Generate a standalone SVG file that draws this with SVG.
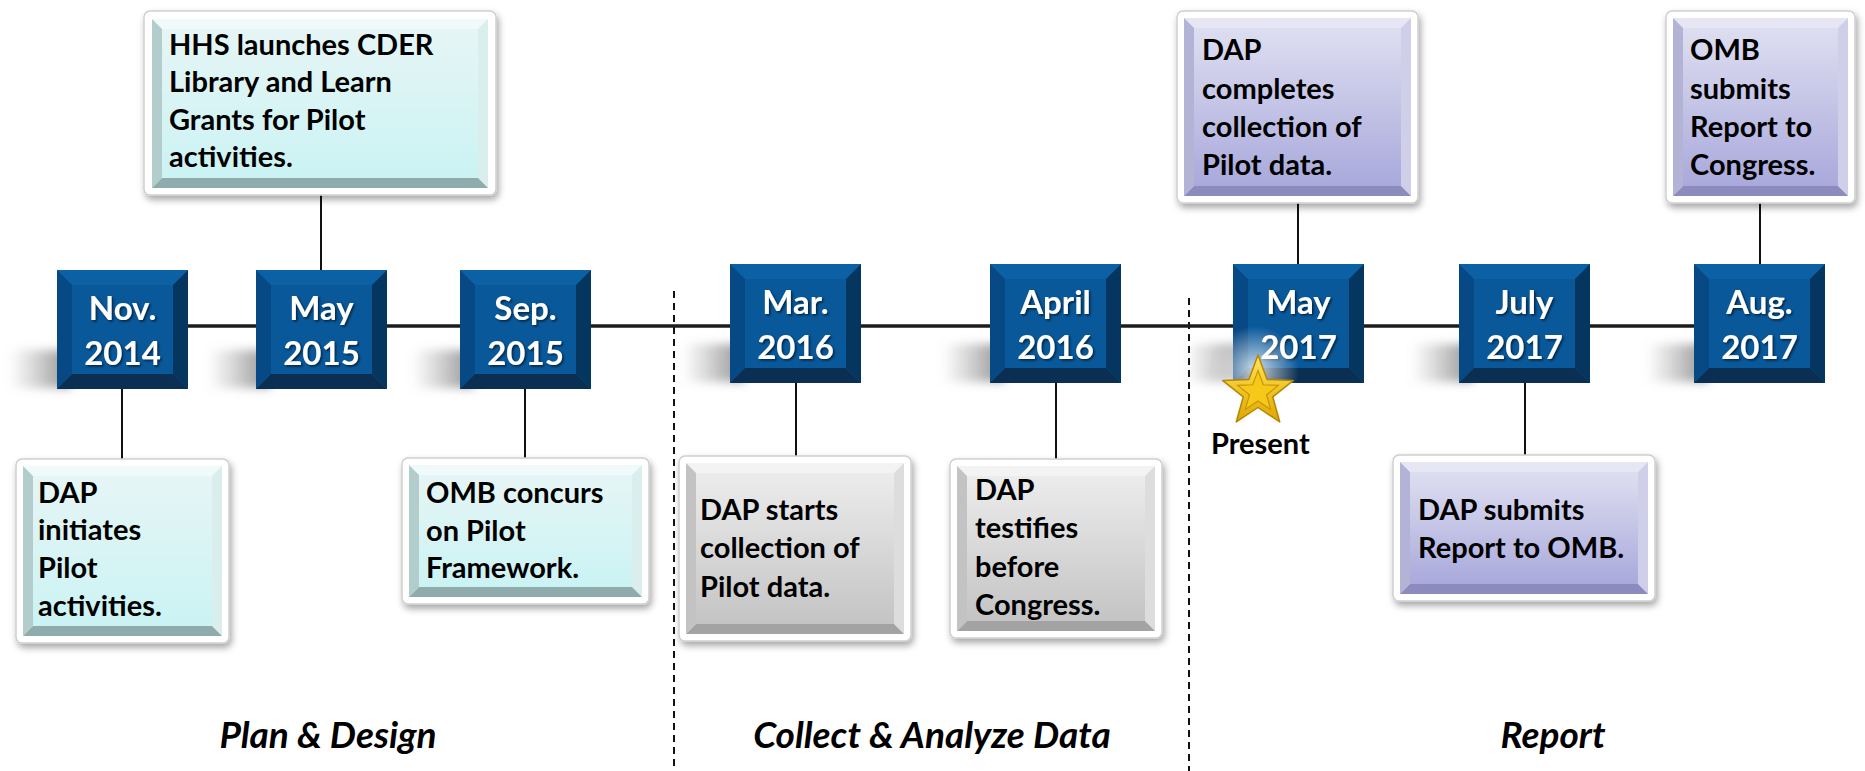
<svg xmlns="http://www.w3.org/2000/svg" xmlns:xlink="http://www.w3.org/1999/xlink" width="1865" height="771" viewBox="0 0 1865 771">
<style>
.outer{fill:#ffffff;stroke:#cfcfcf;stroke-width:1.5;filter:url(#ds)}
.c .t{fill:#f0fafa}.c .l{fill:#b3cdcd}.c .r{fill:#daeeee}.c .b{fill:#8fabab}.c .f{fill:url(#gc)}
.g .t{fill:#f3f3f3}.g .l{fill:#c3c3c3}.g .r{fill:#dddddd}.g .b{fill:#a3a3a3}.g .f{fill:url(#gg)}
.p .t{fill:#e6e6f4}.p .l{fill:#b3b3d6}.p .r{fill:#cfcfe9}.p .b{fill:#8b8bbd}.p .f{fill:url(#gp)}
.dt{font-family:Lato,"Open Sans","Liberation Sans",sans-serif;font-weight:700;font-size:29px;fill:#000}
.date{font-family:Lato,"Open Sans","Liberation Sans",sans-serif;font-weight:700;font-size:33px;fill:#fff;text-anchor:middle;filter:url(#ts)}
.phase{font-family:Lato,"Open Sans","Liberation Sans",sans-serif;font-weight:700;font-style:italic;font-size:37px;fill:#000;text-anchor:middle}
.conn{stroke:#111;stroke-width:2;fill:none}
.main{stroke:#1c1c1c;stroke-width:3.5;fill:none}
.div{stroke:#111;stroke-width:2;stroke-dasharray:7 5;fill:none}
</style>
<defs>
<linearGradient id="gc" x1="0" y1="0" x2="0" y2="1"><stop offset="0" stop-color="#e6f5f5"/><stop offset="1" stop-color="#cbf3f4"/></linearGradient>
<linearGradient id="gg" x1="0" y1="0" x2="0" y2="1"><stop offset="0" stop-color="#ececec"/><stop offset="1" stop-color="#c4c4c4"/></linearGradient>
<linearGradient id="gp" x1="0" y1="0" x2="0" y2="1"><stop offset="0" stop-color="#dedef1"/><stop offset="1" stop-color="#a9a9dc"/></linearGradient>
<linearGradient id="gstar" x1="0" y1="0" x2="0" y2="1"><stop offset="0" stop-color="#ffe55a"/><stop offset="1" stop-color="#e0a600"/></linearGradient>
<linearGradient id="gsh" x1="0" y1="0" x2="1" y2="0"><stop offset="0" stop-color="#888" stop-opacity="0"/><stop offset="1" stop-color="#6a6a6a" stop-opacity="0.75"/></linearGradient>
<radialGradient id="glow"><stop offset="0" stop-color="#ffffff" stop-opacity="0.8"/><stop offset="1" stop-color="#ffffff" stop-opacity="0"/></radialGradient>
<filter id="ds" x="-10%" y="-10%" width="125%" height="130%"><feDropShadow dx="2" dy="4" stdDeviation="3.5" flood-color="#000" flood-opacity="0.35"/></filter>
<filter id="ts" x="-10%" y="-20%" width="130%" height="150%"><feDropShadow dx="1.5" dy="1.5" stdDeviation="1" flood-color="#000" flood-opacity="0.6"/></filter>
<filter id="blur" x="-60%" y="-60%" width="220%" height="220%"><feGaussianBlur stdDeviation="5"/></filter>
<g id="dbox">
<rect x="-48" y="80" width="62" height="38" fill="url(#gsh)" filter="url(#blur)"/>
<rect width="131" height="119" fill="#0c60a4"/>
<polygon points="0,0 15,15 15,104 0,119" fill="#074985"/>
<polygon points="131,0 131,119 116,104 116,15" fill="#05365f"/>
<polygon points="0,119 15,104 116,104 131,119" fill="#0a2f52"/>
<rect x="15" y="15" width="101" height="89" fill="#09589a"/>
</g>
</defs>
<rect width="1865" height="771" fill="#ffffff"/>

<g id="dividers">
<line class="div" x1="674" y1="291" x2="674" y2="771"/>
<line class="div" x1="1189" y1="298" x2="1189" y2="771"/>
</g>

<g id="connectors">
<line class="main" x1="188" y1="326" x2="1694" y2="326"/>
<line class="conn" x1="122" y1="389" x2="122" y2="459"/>
<line class="conn" x1="321" y1="195" x2="321" y2="270"/>
<line class="conn" x1="525" y1="389" x2="525" y2="458"/>
<line class="conn" x1="796" y1="383" x2="796" y2="456"/>
<line class="conn" x1="1056" y1="383" x2="1056" y2="459"/>
<line class="conn" x1="1298" y1="203" x2="1298" y2="264"/>
<line class="conn" x1="1525" y1="383" x2="1525" y2="455"/>
<line class="conn" x1="1760" y1="203" x2="1760" y2="264"/>
</g>

<g id="d-nov2014" transform="translate(57,270)"><use xlink:href="#dbox"/><text class="date" x="65.5" y="50">Nov.</text><text class="date" x="65.5" y="95">2014</text></g>
<g id="d-may2015" transform="translate(256,270)"><use xlink:href="#dbox"/><text class="date" x="65.5" y="50">May</text><text class="date" x="65.5" y="95">2015</text></g>
<g id="d-sep2015" transform="translate(460,270)"><use xlink:href="#dbox"/><text class="date" x="65.5" y="50">Sep.</text><text class="date" x="65.5" y="95">2015</text></g>
<g id="d-mar2016" transform="translate(730,264)"><use xlink:href="#dbox"/><text class="date" x="65.5" y="50">Mar.</text><text class="date" x="65.5" y="95">2016</text></g>
<g id="d-apr2016" transform="translate(990,264)"><use xlink:href="#dbox"/><text class="date" x="65.5" y="50">April</text><text class="date" x="65.5" y="95">2016</text></g>
<g id="d-may2017" transform="translate(1233,264)"><use xlink:href="#dbox"/><text class="date" x="65.5" y="50">May</text><text class="date" x="65.5" y="95">2017</text></g>
<g id="d-jul2017" transform="translate(1459,264)"><use xlink:href="#dbox"/><text class="date" x="65.5" y="50">July</text><text class="date" x="65.5" y="95">2017</text></g>
<g id="d-aug2017" transform="translate(1694,264)"><use xlink:href="#dbox"/><text class="date" x="65.5" y="50">Aug.</text><text class="date" x="65.5" y="95">2017</text></g>

<g id="e-hhs" class="c">
<rect class="outer" x="144" y="11" width="352" height="184" rx="6"/>
<rect class="t" x="152" y="19" width="336" height="169"/>
<polygon class="l" points="152,19 162,29 162,178 152,188"/>
<polygon class="r" points="488,19 488,188 478,178 478,29"/>
<polygon class="b" points="152,188 162,178 478,178 488,188"/>
<rect class="f" x="162" y="29" width="316" height="149"/>
<text class="dt" x="169" y="55">HHS launches CDER</text>
<text class="dt" x="169" y="92">Library and Learn</text>
<text class="dt" x="169" y="130">Grants for Pilot</text>
<text class="dt" x="169" y="167">activities.</text>
</g>

<g id="e-dap-initiates" class="c">
<rect class="outer" x="16" y="459" width="213" height="184" rx="6"/>
<rect class="t" x="23" y="466" width="199" height="170"/>
<polygon class="l" points="23,466 33,476 33,626 23,636"/>
<polygon class="r" points="222,466 222,636 212,626 212,476"/>
<polygon class="b" points="23,636 33,626 212,626 222,636"/>
<rect class="f" x="33" y="476" width="179" height="150"/>
<text class="dt" x="38" y="503">DAP</text>
<text class="dt" x="38" y="540">initiates</text>
<text class="dt" x="38" y="578">Pilot</text>
<text class="dt" x="38" y="616">activities.</text>
</g>

<g id="e-omb-concurs" class="c">
<rect class="outer" x="402" y="458" width="247" height="146" rx="6"/>
<rect class="t" x="409" y="465" width="233" height="132"/>
<polygon class="l" points="409,465 419,475 419,587 409,597"/>
<polygon class="r" points="642,465 642,597 632,587 632,475"/>
<polygon class="b" points="409,597 419,587 632,587 642,597"/>
<rect class="f" x="419" y="475" width="213" height="112"/>
<text class="dt" x="426" y="503">OMB concurs</text>
<text class="dt" x="426" y="541">on Pilot</text>
<text class="dt" x="426" y="578">Framework.</text>
</g>

<g id="e-dap-starts" class="g">
<rect class="outer" x="679" y="456" width="232" height="185" rx="6"/>
<rect class="t" x="686" y="463" width="218" height="171"/>
<polygon class="l" points="686,463 696,473 696,624 686,634"/>
<polygon class="r" points="904,463 904,634 894,624 894,473"/>
<polygon class="b" points="686,634 696,624 894,624 904,634"/>
<rect class="f" x="696" y="473" width="198" height="151"/>
<text class="dt" x="700" y="520">DAP starts</text>
<text class="dt" x="700" y="558">collection of</text>
<text class="dt" x="700" y="597">Pilot data.</text>
</g>

<g id="e-dap-testifies" class="g">
<rect class="outer" x="950" y="459" width="212" height="179" rx="6"/>
<rect class="t" x="957" y="466" width="198" height="165"/>
<polygon class="l" points="957,466 967,476 967,621 957,631"/>
<polygon class="r" points="1155,466 1155,631 1145,621 1145,476"/>
<polygon class="b" points="957,631 967,621 1145,621 1155,631"/>
<rect class="f" x="967" y="476" width="178" height="145"/>
<text class="dt" x="975" y="500">DAP</text>
<text class="dt" x="975" y="538">testifies</text>
<text class="dt" x="975" y="577">before</text>
<text class="dt" x="975" y="615">Congress.</text>
</g>

<g id="e-dap-completes" class="p">
<rect class="outer" x="1177" y="11" width="241" height="192" rx="6"/>
<rect class="t" x="1184" y="18" width="227" height="178"/>
<polygon class="l" points="1184,18 1194,28 1194,186 1184,196"/>
<polygon class="r" points="1411,18 1411,196 1401,186 1401,28"/>
<polygon class="b" points="1184,196 1194,186 1401,186 1411,196"/>
<rect class="f" x="1194" y="28" width="207" height="158"/>
<text class="dt" x="1202" y="60">DAP</text>
<text class="dt" x="1202" y="99">completes</text>
<text class="dt" x="1202" y="137">collection of</text>
<text class="dt" x="1202" y="175">Pilot data.</text>
</g>

<g id="e-dap-submits" class="p">
<rect class="outer" x="1393" y="455" width="262" height="146" rx="6"/>
<rect class="t" x="1400" y="462" width="248" height="132"/>
<polygon class="l" points="1400,462 1410,472 1410,584 1400,594"/>
<polygon class="r" points="1648,462 1648,594 1638,584 1638,472"/>
<polygon class="b" points="1400,594 1410,584 1638,584 1648,594"/>
<rect class="f" x="1410" y="472" width="228" height="112"/>
<text class="dt" x="1418" y="520">DAP submits</text>
<text class="dt" x="1418" y="558">Report to OMB.</text>
</g>

<g id="e-omb-submits" class="p">
<rect class="outer" x="1666" y="11" width="189" height="192" rx="6"/>
<rect class="t" x="1673" y="18" width="175" height="178"/>
<polygon class="l" points="1673,18 1683,28 1683,186 1673,196"/>
<polygon class="r" points="1848,18 1848,196 1838,186 1838,28"/>
<polygon class="b" points="1673,196 1683,186 1838,186 1848,196"/>
<rect class="f" x="1683" y="28" width="155" height="158"/>
<text class="dt" x="1690" y="60">OMB</text>
<text class="dt" x="1690" y="99">submits</text>
<text class="dt" x="1690" y="137">Report to</text>
<text class="dt" x="1690" y="175">Congress.</text>
</g>

<g id="present">
<circle cx="1255" cy="370" r="44" fill="url(#glow)"/>
<g transform="translate(1258,392)">
<polygon points="0,-37 9.11,-12.54 35.19,-11.43 14.74,4.79 21.75,29.93 0,15.5 -21.75,29.93 -14.74,4.79 -35.19,-11.43 -9.11,-12.54" fill="url(#gstar)" stroke="#b58600" stroke-width="1.5" stroke-linejoin="round"/>
<polygon transform="scale(0.58)" points="0,-37 9.11,-12.54 35.19,-11.43 14.74,4.79 21.75,29.93 0,15.5 -21.75,29.93 -14.74,4.79 -35.19,-11.43 -9.11,-12.54" fill="#f6c81a" stroke="#c99400" stroke-width="2"/>
</g>
<text class="dt" x="1211" y="454">Present</text>
</g>

<g id="phases">
<text class="phase" x="328" y="748">Plan &amp; Design</text>
<text class="phase" x="932" y="748">Collect &amp; Analyze Data</text>
<text class="phase" x="1553" y="748">Report</text>
</g>
</svg>
